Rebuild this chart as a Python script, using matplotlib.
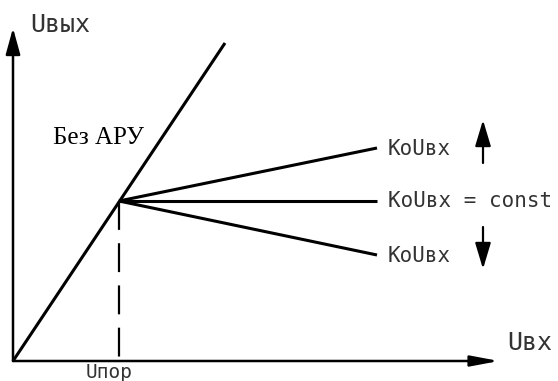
import matplotlib
matplotlib.use("Agg")
import matplotlib.pyplot as plt

# точки характеристики (условные единицы)
origin = (0, 0)
knee = (106, 160)              # Uпор
no_agc_end = (212, 318)        # без АРУ
k_up_end = (364, 213)          # KoUвх растёт
k_const_end = (364, 160)       # KoUвх = const
k_down_end = (364, 106)        # KoUвх падает
x_axis_end = 486
y_axis_end = 333

label_y = "Uвых"
label_x = "Uвх"
label_thr = "Uпор"
label_no_agc = "Без АРУ"
label_k = "KoUвх"
label_k_const = "KoUвх = const"

fig = plt.figure(figsize=(5.58, 3.81), dpi=100)
ax = fig.add_axes([0, 0, 1, 1])
ax.set_xlim(-13, 545)
ax.set_ylim(-20, 361)
ax.axis("off")

# оси
ax.annotate("", xy=(x_axis_end, 0), xytext=origin,
            arrowprops=dict(arrowstyle="-|>,head_length=0.85,head_width=0.16",
                            mutation_scale=20, lw=1.8, color="black", shrinkA=0, shrinkB=0))
ax.annotate("", xy=(0, y_axis_end), xytext=origin,
            arrowprops=dict(arrowstyle="-|>,head_length=0.8,head_width=0.22",
                            mutation_scale=20, lw=1.8, color="black", shrinkA=0, shrinkB=0))

lw = 2.2
ax.plot([origin[0], no_agc_end[0]], [origin[1], no_agc_end[1]], color="black", lw=lw,
        solid_capstyle="butt")
for end in (k_up_end, k_const_end, k_down_end):
    ax.plot([knee[0], end[0]], [knee[1], end[1]], color="black", lw=lw, solid_capstyle="butt")

dash, = ax.plot([knee[0], knee[0]], [knee[1], 0], color="black", lw=1.6)
dash.set_dashes((13, 6))

# стрелки направления
arr = dict(arrowstyle="-|>,head_length=0.8,head_width=0.24", mutation_scale=20,
           lw=1.6, color="black", shrinkA=0, shrinkB=0)
ax.annotate("", xy=(470, 241), xytext=(470, 198), arrowprops=arr)
ax.annotate("", xy=(470, 92), xytext=(470, 134), arrowprops=arr)

txt = dict(family="DejaVu Sans Mono", color="#333333", va="center")
ax.text(17, 336, label_y, fontsize=18, ha="left", **txt)
ax.text(494, 18, label_x, fontsize=18, ha="left", **txt)
ax.text(96, -11, label_thr, fontsize=14, ha="center", **txt)
ax.text(375, k_up_end[1] - 1, label_k, fontsize=15, ha="left", **txt)
ax.text(375, k_const_end[1], label_k_const, fontsize=15, ha="left", **txt)
ax.text(375, k_down_end[1] - 1, label_k, fontsize=15, ha="left", **txt)
ax.text(40, 223, label_no_agc, fontsize=18, ha="left", va="center",
        family="Liberation Serif", color="black")

fig.savefig("out.png", dpi=100, facecolor="white")
